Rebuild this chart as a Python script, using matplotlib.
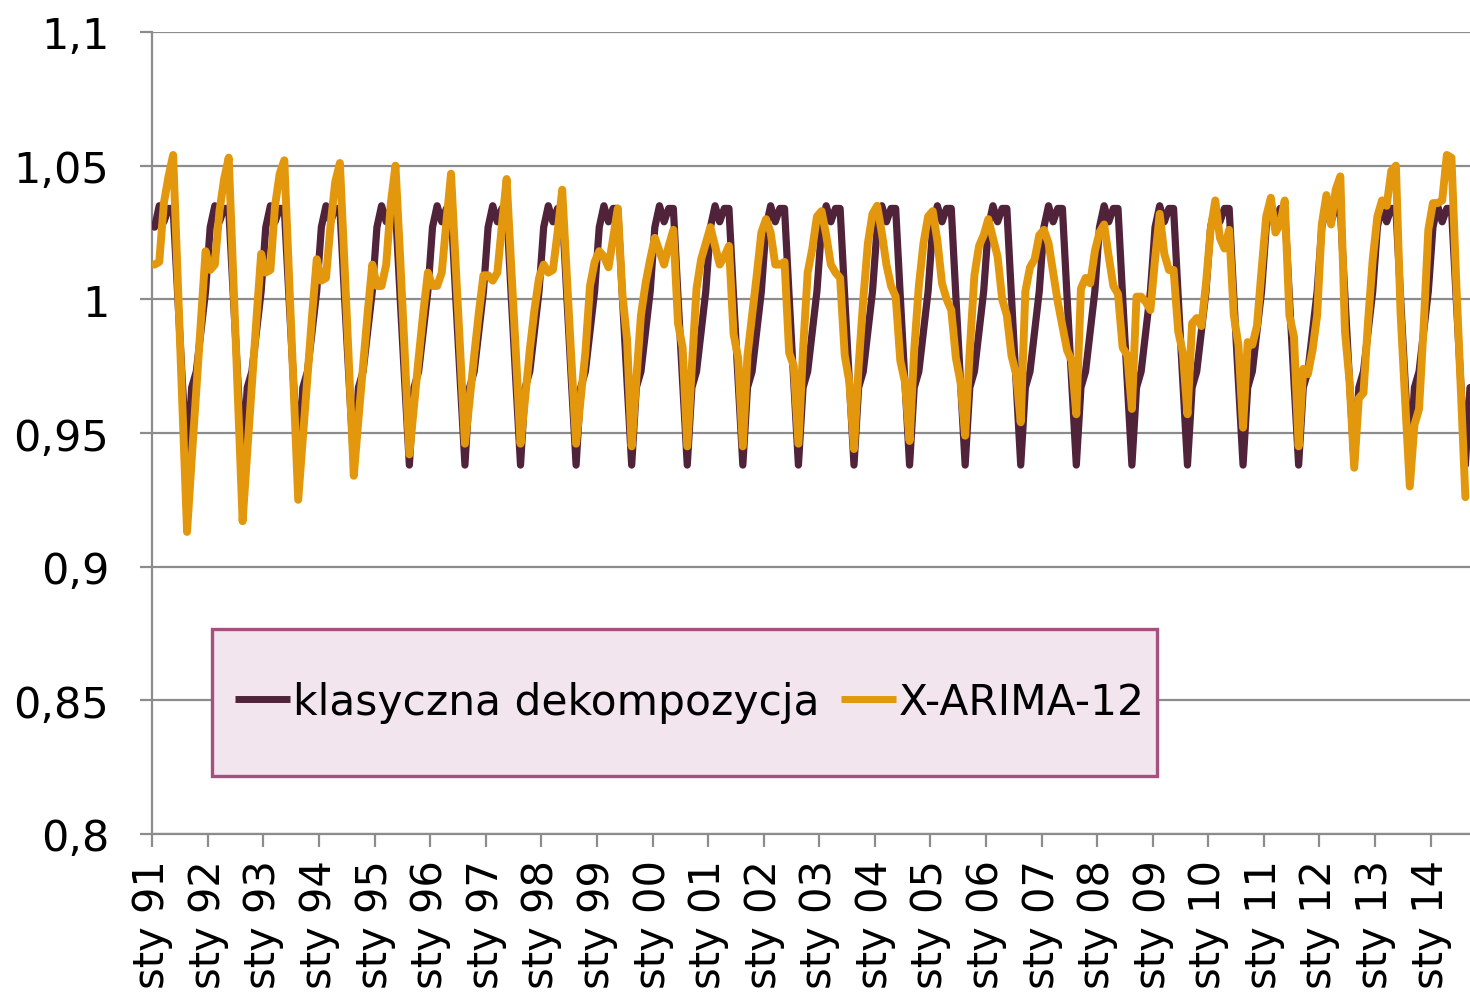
import matplotlib
matplotlib.use("Agg")
import numpy as np
import matplotlib.pyplot as plt
from matplotlib.patches import Rectangle

# ---------------- data ----------------
years = list(range(1991, 2015))
tick_labels = [f"sty {y % 100:02d}" for y in years]

# classical decomposition: one set of 12 monthly seasonal factors (Jan..Dec)
classical_factors = [1.027, 1.035, 1.029, 1.034, 1.034, 1.001,
                     0.969, 0.938, 0.967, 0.973, 0.988, 1.003]
n_classical_months = 285  # sty 91 .. wrz 14

# X-ARIMA-12 seasonal factors, one row per year (Jan..Dec)
xa_1991 = [1.013, 1.014, 1.036, 1.046, 1.054, 1.007, 0.960, 0.913, 0.940, 0.966, 0.992, 1.018]
xa_1992 = [1.011, 1.013, 1.033, 1.045, 1.053, 1.008, 0.962, 0.917, 0.943, 0.968, 0.993, 1.017]
xa_1993 = [1.010, 1.011, 1.035, 1.047, 1.052, 1.010, 0.968, 0.925, 0.948, 0.971, 0.994, 1.015]
xa_1994 = [1.007, 1.008, 1.028, 1.044, 1.051, 1.013, 0.974, 0.934, 0.955, 0.975, 0.995, 1.013]
xa_1995 = [1.005, 1.005, 1.013, 1.036, 1.050, 1.016, 0.980, 0.942, 0.960, 0.978, 0.995, 1.010]
xa_1996 = [1.005, 1.005, 1.010, 1.029, 1.047, 1.013, 0.980, 0.946, 0.962, 0.979, 0.995, 1.009]
xa_1997 = [1.009, 1.007, 1.010, 1.028, 1.045, 1.012, 0.980, 0.946, 0.963, 0.981, 0.996, 1.008]
xa_1998 = [1.013, 1.010, 1.011, 1.025, 1.041, 1.009, 0.977, 0.946, 0.963, 0.980, 1.005, 1.014]
xa_1999 = [1.018, 1.016, 1.012, 1.023, 1.034, 1.002, 0.985, 0.945, 0.970, 0.994, 1.006, 1.015]
xa_2000 = [1.023, 1.018, 1.013, 1.020, 1.026, 0.991, 0.982, 0.945, 0.975, 1.004, 1.015, 1.021]
xa_2001 = [1.027, 1.020, 1.013, 1.016, 1.020, 0.987, 0.978, 0.945, 0.979, 0.994, 1.009, 1.025]
xa_2002 = [1.030, 1.025, 1.013, 1.013, 1.014, 0.980, 0.975, 0.946, 0.981, 1.010, 1.019, 1.031]
xa_2003 = [1.033, 1.024, 1.013, 1.010, 1.008, 0.979, 0.969, 0.944, 0.975, 1.000, 1.021, 1.032]
xa_2004 = [1.035, 1.025, 1.013, 1.005, 1.001, 0.977, 0.969, 0.947, 0.981, 1.005, 1.021, 1.031]
xa_2005 = [1.033, 1.022, 1.006, 1.000, 0.996, 0.978, 0.969, 0.949, 0.981, 1.009, 1.020, 1.024]
xa_2006 = [1.030, 1.023, 1.016, 1.000, 0.994, 0.979, 0.972, 0.954, 1.003, 1.012, 1.015, 1.024]
xa_2007 = [1.026, 1.021, 1.010, 0.999, 0.990, 0.981, 0.977, 0.957, 1.004, 1.008, 1.006, 1.018]
xa_2008 = [1.025, 1.028, 1.016, 1.005, 1.002, 0.982, 0.979, 0.959, 1.001, 1.001, 0.999, 0.996]
xa_2009 = [1.015, 1.032, 1.017, 1.011, 1.011, 0.988, 0.980, 0.957, 0.991, 0.993, 0.990, 1.006]
xa_2010 = [1.026, 1.037, 1.023, 1.019, 1.026, 0.994, 0.983, 0.952, 0.984, 0.983, 0.990, 1.011]
xa_2011 = [1.031, 1.038, 1.025, 1.028, 1.037, 0.994, 0.986, 0.945, 0.974, 0.972, 0.981, 0.994]
xa_2012 = [1.028, 1.039, 1.028, 1.041, 1.046, 0.988, 0.969, 0.937, 0.963, 0.965, 0.992, 1.015]
xa_2013 = [1.031, 1.037, 1.035, 1.048, 1.050, 0.995, 0.962, 0.930, 0.953, 0.959, 0.990, 1.026]
xa_2014 = [1.036, 1.036, 1.037, 1.054, 1.053, 1.008, 0.967, 0.926]

y_ticks = [0.8, 0.85, 0.9, 0.95, 1.0, 1.05, 1.1]
y_tick_labels = ["0,8", "0,85", "0,9", "0,95", "1", "1,05", "1,1"]

series_names = ["klasyczna dekompozycja", "X-ARIMA-12"]

# ---------------- build series ----------------
classical = np.tile(classical_factors, len(years) + 1)[:n_classical_months]
xarima = np.concatenate([xa_1991, xa_1992, xa_1993, xa_1994, xa_1995, xa_1996,
                         xa_1997, xa_1998, xa_1999, xa_2000, xa_2001, xa_2002,
                         xa_2003, xa_2004, xa_2005, xa_2006, xa_2007, xa_2008,
                         xa_2009, xa_2010, xa_2011, xa_2012, xa_2013, xa_2014])

DARK = "#51233B"
ORANGE = "#E2970C"
GRID = "#8C8C8C"

fig = plt.figure(figsize=(14.7, 9.95), dpi=100)
ax = fig.add_axes([152.3 / 1470, 1 - 835 / 995, (1470 - 152.3) / 1470, (835 - 33) / 995])

x_c = np.arange(len(classical)) + 0.5
x_o = np.arange(len(xarima)) + 0.5
ax.plot(x_c, classical, color=DARK, lw=5.2, solid_joinstyle="round",
        solid_capstyle="round", zorder=3, label=series_names[0])
ax.plot(x_o, xarima, color=ORANGE, lw=5.7, solid_joinstyle="round",
        solid_capstyle="round", zorder=4, label=series_names[1])

ax.set_xlim(0, 284.5)
ax.set_ylim(0.8, 1.1)
ax.set_xticks(np.arange(len(years)) * 12)
ax.set_xticklabels(tick_labels, rotation=90, fontsize=30)
ax.set_yticks(y_ticks)
ax.set_yticklabels(y_tick_labels, fontsize=31)

ax.yaxis.grid(True, color=GRID, lw=1.6)
ax.set_axisbelow(True)
for s in ["top", "right"]:
    ax.spines[s].set_visible(False)
for s in ["left", "bottom"]:
    ax.spines[s].set_color(GRID)
    ax.spines[s].set_linewidth(1.6)

ax.tick_params(axis="both", color=GRID, width=1.6, length=9,
               labelcolor="black")
ax.tick_params(axis="y", pad=22)
ax.tick_params(axis="x", pad=9)

# legend box
ax_w = 1470 - 152.3
ax_h = 835 - 33
box = Rectangle(((212 - 152.3) / ax_w, (835 - 777) / ax_h),
                (1157 - 212) / ax_w, (777 - 630) / ax_h,
                transform=ax.transAxes, facecolor="#F3E5EE",
                edgecolor="#A5507F", lw=2.4, zorder=5, clip_on=False)
ax.add_patch(box)

leg = ax.legend(loc="center left",
                bbox_to_anchor=((235 - 152.3) / ax_w, (835 - 703) / ax_h),
                frameon=False, ncol=2, fontsize=30.5, handlelength=1.3,
                handletextpad=0.07, columnspacing=0.5, borderpad=0,
                borderaxespad=0)
leg.set_zorder(6)
for line in leg.get_lines():
    line.set_linewidth(5)
    line.set_solid_capstyle("butt")

fig.savefig("out.png", dpi=100)
